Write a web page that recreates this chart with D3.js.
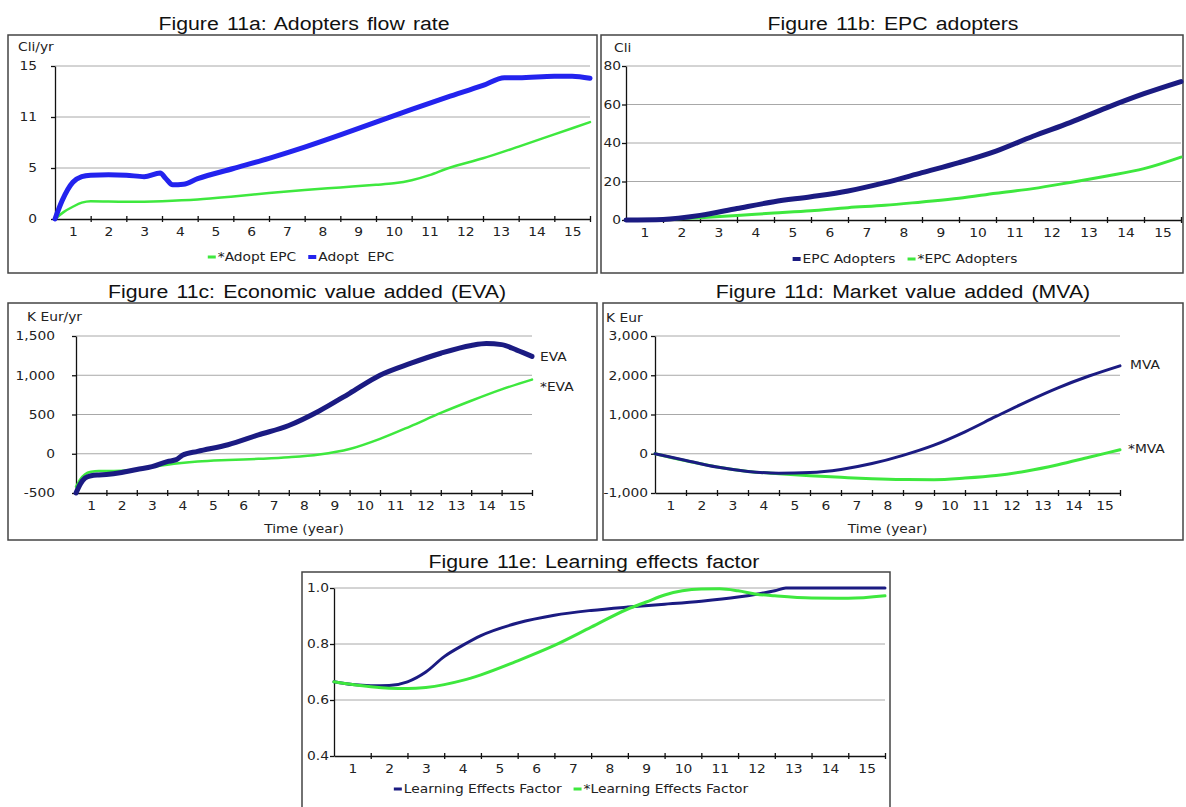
<!DOCTYPE html>
<html>
<head>
<meta charset="utf-8">
<script src="https://cdn.jsdelivr.net/npm/d3@7"></script>
<style>
body{margin:0;background:#fff}
svg{display:block}
</style>
</head>
<body>
<svg id="chart" width="1186" height="807"></svg>
<script>
// x axis: years 0..15, tick marks at year ends, labels centred in each year
var xTickYears = [1,2,3,4,5,6,7,8,9,10,11,12,13,14,15];
var xLabels = ["1","2","3","4","5","6","7","8","9","10","11","12","13","14","15"];

// Figure 11a: Adopters flow rate (Cli/yr)
var tAdopt = [0,0.2,0.5,0.75,1,1.5,2,2.5,2.95,3.1,3.3,3.6,4,5,6,7,8,9,10,11,12,12.6,13,14,14.5,15];
var adoptEPC = [0,1.8,3.6,4.15,4.3,4.35,4.3,4.15,4.5,4.0,3.35,3.4,3.95,4.95,5.95,7.05,8.25,9.5,10.75,11.95,13.1,13.85,13.85,14.0,14.0,13.8];
var tAdoptStar = [0,0.25,0.5,0.75,1,2,3,4,5,6,7,8,9,9.5,10,10.5,11,12,13,14,15];
var adoptEPCStar = [0,0.7,1.2,1.6,1.75,1.7,1.75,1.9,2.2,2.55,2.85,3.1,3.35,3.5,3.8,4.3,4.95,5.95,7.1,8.3,9.5];
var yTicksA = [0,5,10,15];
var yLabelsA = ["0","5","11","15"];

// Figure 11b: EPC adopters (Cli)
var tYears = [0,1,2,3,4,5,6,7,8,9,10,11,12,13,14,15];
var epcAdopters = [0,0.3,2.4,6,9.5,12.1,15.1,19.4,24.6,29.8,35.8,43.5,50.6,58.4,65.6,71.9];
var epcAdoptersStar = [0,0.3,1.2,2.4,3.6,4.8,6.4,7.6,9.4,11.3,13.9,16.3,19.5,22.9,26.7,32.7];
var yTicksB = [0,20,40,60,80];
var yLabelsB = ["0","20","40","60","80"];

// Figure 11c: Economic value added (K Eur/yr)
var tEva = [0,0.15,0.3,0.5,0.75,1,1.5,2,2.5,3,3.3,3.5,4,5,6,7,8,9,10,11,12,13,13.5,14,14.5,15];
var eva = [-500,-380,-310,-280,-270,-265,-240,-200,-165,-100,-75,-20,30,115,240,360,545,770,1000,1150,1280,1380,1405,1390,1320,1240];
var tEvaStar = [0,0.15,0.3,0.5,0.75,1,1.5,2,2.5,3,4,5,6,7,8,9,10,11,12,13,14,15];
var evaStar = [-420,-320,-260,-230,-220,-220,-215,-200,-170,-140,-100,-80,-65,-45,-10,60,190,350,520,675,820,945];
var yTicksC = [-500,0,500,1000,1500];
var yLabelsC = ["-500","0","500","1,000","1,500"];

// Figure 11d: Market value added (K Eur)
var mva = [0,-170,-340,-450,-495,-480,-400,-250,-40,220,560,950,1330,1680,1980,2240];
var mvaStar = [0,-180,-340,-450,-510,-560,-600,-635,-655,-660,-620,-555,-440,-280,-90,100];
var yTicksD = [-1000,0,1000,2000,3000];
var yLabelsD = ["-1,000","0","1,000","2,000","3,000"];

// Figure 11e: Learning effects factor
var tLef = [0,0.5,1,1.5,2,2.5,3,3.5,4,5,6,7,8,9,10,11,11.5,12,12.3,13,14,15];
var lef = [0.665,0.655,0.651,0.652,0.665,0.7,0.755,0.795,0.83,0.875,0.903,0.92,0.932,0.942,0.953,0.968,0.978,0.99,1.0,1.0,1.0,1.0];
var tLefStar = [0,0.5,1,1.5,2,2.5,3,3.5,4,5,6,7,8,8.5,9,10,10.5,11,11.5,12,13,14,15];
var lefStar = [0.665,0.655,0.647,0.642,0.641,0.645,0.655,0.67,0.69,0.74,0.795,0.86,0.925,0.95,0.975,0.996,0.997,0.99,0.978,0.972,0.964,0.963,0.972];
var yTicksE = [0.4,0.6,0.8,1.0];
var yLabelsE = ["0.4","0.6","0.8","1.0"];

var BLUE = "#2323ee", NAVY = "#1b1b82", GREEN = "#3ee83e";
var SX = 1.15; // the source picture is stretched sideways
var svg = d3.select("#chart");

function stretch(sel, s){
	sel.each(function(){
		var t = d3.select(this);
		var x = +t.attr("x") || 0, y = +t.attr("y") || 0;
		t.attr("x", 0).attr("y", 0).attr("transform", "translate(" + x + "," + y + ") scale(" + s + ",1)");
	});
}

function addText(g, x, y, str, size, anchor, family, s){
	var t = g.append("text").attr("x", x).attr("y", y)
		.attr("font-family", family || "DejaVu Sans")
		.attr("font-size", size).attr("fill", "#222")
		.attr("text-anchor", anchor || "start")
		.style("white-space", "pre")
		.text(str);
	stretch(t, s || SX);
	return t;
}

function legend(g, cx, y, items){
	var lg = g.append("g");
	var x = 0;
	items.forEach(function(it){
		lg.append("rect").attr("x", x).attr("y", y - 4 - it.h / 2).attr("width", 8).attr("height", it.h).attr("fill", it.color);
		var t = addText(lg, x + 10, y, it.label, 12);
		x += 10 + t.node().getComputedTextLength() * SX + 12;
	});
	x -= 12;
	lg.attr("transform", "translate(" + (cx - x / 2) + ",0)");
}

function drawPanel(p){
	var g = svg.append("g");
	g.append("rect").attr("x", p.box[0]).attr("y", p.box[1])
		.attr("width", p.box[2] - p.box[0]).attr("height", p.box[3] - p.box[1])
		.attr("fill", "none").attr("stroke", "#444").attr("stroke-width", 1.5);
	addText(g, p.titleX, p.titleY, p.title, 19, "middle", "Liberation Sans", 1.12)
		.attr("fill", "#111").attr("word-spacing", "2px");
	if(p.unit) addText(g, p.unit[0], p.unit[1], p.unit[2], 12);

	var x = d3.scaleLinear().domain([0, 15]).range(p.xr);
	var y = d3.scaleLinear().domain(p.yd).range(p.yr);

	// grid
	g.selectAll(".grid").data(p.yTicks.slice(1)).enter().append("line")
		.attr("x1", p.xr[0]).attr("x2", p.xr[1])
		.attr("y1", function(d){ return y(d); }).attr("y2", function(d){ return y(d); })
		.attr("stroke", "#a8a8a8").attr("stroke-width", 1);

	// y axis
	var ya = g.append("g").attr("transform", "translate(" + p.xr[0] + ",0)")
		.call(d3.axisLeft(y).tickValues(p.yTicks)
			.tickFormat(function(d, i){ return p.yLabels[i]; })
			.tickSize(4).tickSizeOuter(0).tickPadding(p.yPad));

	// x axis: marks at year ends
	var xa = g.append("g").attr("transform", "translate(0," + p.yr[0] + ")")
		.call(d3.axisBottom(x).tickValues(xTickYears).tickSize(3).tickSizeOuter(0).tickFormat(""));
	xa.selectAll(".tick line").attr("y1", -3).attr("y2", 3);

	// x labels in the middle of each year
	var xl = g.append("g").attr("transform", "translate(0," + p.yr[0] + ")")
		.call(d3.axisBottom(x).tickValues(xTickYears.map(function(d){ return d - 0.5; }))
			.tickFormat(function(d, i){ return xLabels[i]; })
			.tickSize(0).tickPadding(8.5));
	xl.select(".domain").remove();

	[ya, xa, xl].forEach(function(a){
		a.attr("font-family", "DejaVu Sans").attr("font-size", 12);
		a.selectAll("text").attr("fill", "#222");
		a.selectAll(".domain, .tick line").attr("stroke", "#111").attr("stroke-width", 1.3);
		stretch(a.selectAll("text"), SX);
	});

	var line = d3.line().x(function(d){ return x(d[0]); }).y(function(d){ return y(d[1]); })
		.curve(d3.curveMonotoneX);
	p.series.forEach(function(s){
		var pts = s.t.map(function(t, i){ return [t, s.v[i]]; });
		g.append("path").datum(pts).attr("d", line)
			.attr("fill", "none").attr("stroke", s.color).attr("stroke-width", s.w)
			.attr("stroke-linejoin", "round").attr("stroke-linecap", "round");
	});

	if(p.endLabels) p.endLabels.forEach(function(l){ addText(g, l[0], l[1], l[2], 12); });
	if(p.xTitle) addText(g, (p.xr[0] + p.xr[1]) / 2, p.xTitle, "Time (year)", 12, "middle");
	if(p.legend) legend(g, p.legend.cx, p.legend.y, p.legend.items);
}

drawPanel({
	box: [8, 35, 597, 273], title: "Figure 11a: Adopters flow rate", titleX: 304, titleY: 30,
	unit: [18, 51, "Cli/yr"], xr: [55, 590], yr: [219, 66], yd: [0, 15],
	yTicks: yTicksA, yLabels: yLabelsA, yPad: 14,
	series: [
		{t: tAdoptStar, v: adoptEPCStar, color: GREEN, w: 2.5},
		{t: tAdopt, v: adoptEPC, color: BLUE, w: 5}
	],
	legend: {cx: 301, y: 261, items: [
		{label: "*Adopt EPC", color: GREEN, h: 3},
		{label: "Adopt  EPC", color: BLUE, h: 4}
	]}
});

drawPanel({
	box: [601, 35, 1183, 273], title: "Figure 11b: EPC adopters", titleX: 893, titleY: 30,
	unit: [614, 52, "Cli"], xr: [626, 1181], yr: [220, 66], yd: [0, 80],
	yTicks: yTicksB, yLabels: yLabelsB, yPad: 1,
	series: [
		{t: tYears, v: epcAdoptersStar, color: GREEN, w: 3},
		{t: tYears, v: epcAdopters, color: NAVY, w: 5}
	],
	legend: {cx: 905, y: 263, items: [
		{label: "EPC Adopters", color: NAVY, h: 4},
		{label: "*EPC Adopters", color: GREEN, h: 3}
	]}
});

drawPanel({
	box: [8, 303, 597, 540], title: "Figure 11c: Economic value added (EVA)", titleX: 307, titleY: 298,
	unit: [27, 321, "K Eur/yr"], xr: [76, 532], yr: [493, 336], yd: [-500, 1500],
	yTicks: yTicksC, yLabels: yLabelsC, yPad: 17,
	series: [
		{t: tEvaStar, v: evaStar, color: GREEN, w: 2.5},
		{t: tEva, v: eva, color: NAVY, w: 5}
	],
	endLabels: [[540, 361, "EVA"], [540, 391, "*EVA"]],
	xTitle: 533
});

drawPanel({
	box: [603, 303, 1183, 540], title: "Figure 11d: Market value added (MVA)", titleX: 903, titleY: 298,
	unit: [606, 322, "K Eur"], xr: [655, 1120], yr: [493, 336], yd: [-1000, 3000],
	yTicks: yTicksD, yLabels: yLabelsD, yPad: 3,
	series: [
		{t: tYears, v: mvaStar, color: GREEN, w: 3},
		{t: tYears, v: mva, color: NAVY, w: 3}
	],
	endLabels: [[1130, 369, "MVA"], [1128, 453, "*MVA"]],
	xTitle: 533
});

drawPanel({
	box: [302, 572, 890, 812], title: "Figure 11e: Learning effects factor", titleX: 594, titleY: 568,
	xr: [334, 885], yr: [756, 588], yd: [0.4, 1.0],
	yTicks: yTicksE, yLabels: yLabelsE, yPad: 1,
	series: [
		{t: tLef, v: lef, color: NAVY, w: 3},
		{t: tLefStar, v: lefStar, color: GREEN, w: 3}
	],
	legend: {cx: 571, y: 793, items: [
		{label: "Learning Effects Factor", color: NAVY, h: 3},
		{label: "*Learning Effects Factor", color: GREEN, h: 3}
	]}
});
</script>
</body>
</html>
